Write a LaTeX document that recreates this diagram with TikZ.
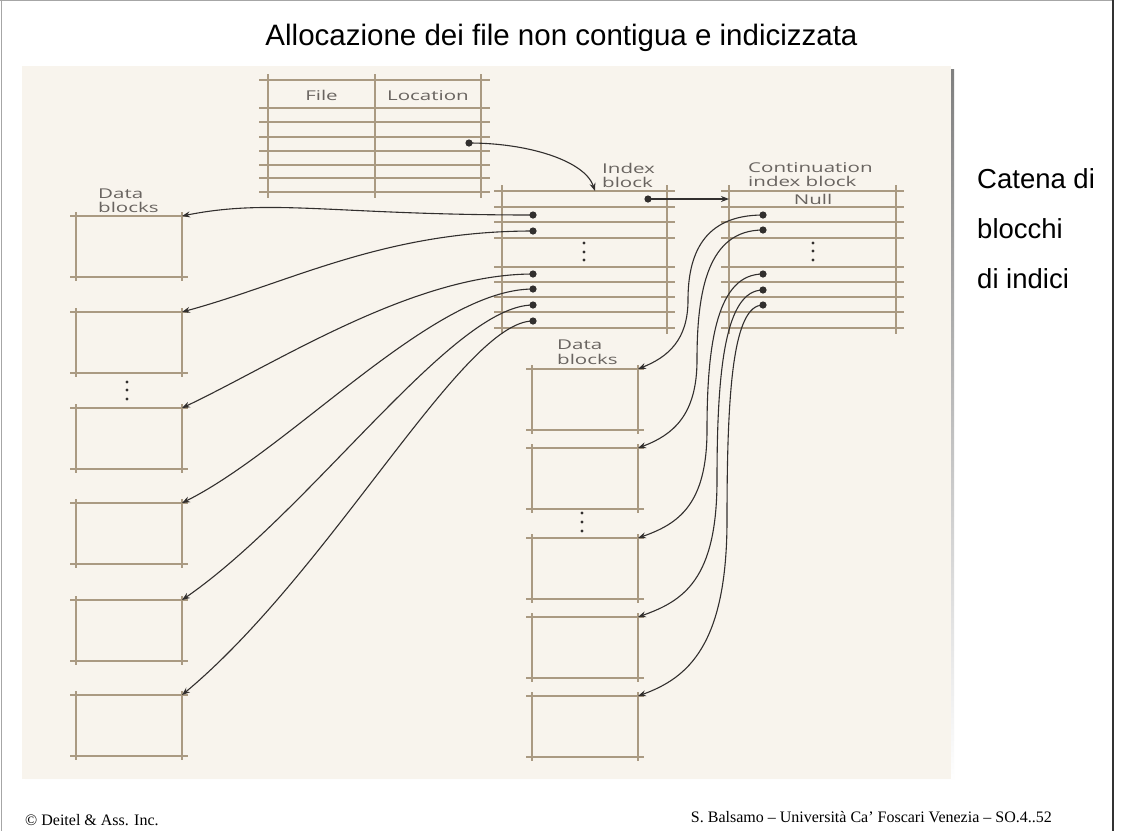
\documentclass[tikz,border=0pt]{standalone}
\usepackage{fontspec}
\setmainfont{Liberation Serif}
\newfontfamily\arialf{Liberation Sans}
\newfontfamily\figf{Open Sans}
\usetikzlibrary{arrows.meta}
\definecolor{panel}{RGB}{248,244,237}
\definecolor{gridc}{RGB}{170,154,130}
\definecolor{wire}{RGB}{50,47,46}
\definecolor{lblc}{RGB}{105,100,96}
\definecolor{shade}{RGB}{203,207,215}
\newcommand{\flab}[1]{\scalebox{1.52}[1]{#1}}
\tikzset{
  gridline/.style={draw=gridc, line width=1.2pt},
  dblk/.style={draw=gridc, line width=1.2pt, minimum width=106pt, minimum height=61pt, inner sep=0pt, outer sep=0pt},
  tblk/.style={inner sep=0pt, outer sep=0pt},
  ptr/.style={draw=wire, line width=1.1pt, -{Stealth[length=8pt,width=6pt]}},
  lblt/.style={text=lblc, font=\figf\fontsize{13.5}{14}\selectfont, inner sep=0pt},
  vdot/.style={fill=wire},
}
\newcommand{\dblock}[3]{%
  \node[dblk, anchor=north west] (#1) at (#2,#3) {};
  \draw[gridline] ({#2-6},#3) -- ({#2+112},#3) ({#2-6},{#3+61}) -- ({#2+112},{#3+61})
    (#2,{#3-4}) -- (#2,{#3+65}) ({#2+106},{#3-4}) -- ({#2+106},{#3+65});
}
\begin{document}
\begin{tikzpicture}[x=1pt,y=-1pt]
\useasboundingbox (0,0) rectangle (1121,831);
\fill[white] (0,0) rectangle (1121,831);
% page borders
\draw[black!35, line width=1pt] (0,0.5) -- (1113,0.5);
\draw[black!35, line width=1.2pt] (1.5,0) -- (1.5,831);
\draw[black!80, line width=1.5pt] (1113,0) -- (1113,831);
% title
\node[anchor=base, inner sep=0pt, font=\arialf\fontsize{29.5}{32}\selectfont] (title) at (561.5,45) {Allocazione dei file non contigua e indicizzata};
% panel
\fill[shade] (25,69) rectangle (954,782);
\fill[panel] (22,66) rectangle (951,779);
% file table
\node[tblk, anchor=north west, minimum width=213pt, minimum height=112pt] (ftab) at (268,80) {};
\foreach \y in {80,108,122,137,151,165,178,192} \draw[gridline] (259,\y) -- (490,\y);
\foreach \x in {268,375,481} \draw[gridline] (\x,74) -- (\x,198);
\node[lblt, anchor=base] (tfile) at (321.5,100) {\flab{File}};
\node[lblt, anchor=base] (tloc) at (428,100) {\flab{Location}};
% index block
\node[tblk, anchor=north west, minimum width=165pt, minimum height=137pt] (ib) at (502,191) {};
\foreach \y in {191,207,222,238,267,282,297,312,328} \draw[gridline] (494,\y) -- (675,\y);
\foreach \x in {502,667} \draw[gridline] (\x,185) -- (\x,334);
\node[lblt, anchor=base west] (tib1) at (602,173) {\flab{Index}};
\node[lblt, anchor=base west] (tib2) at (602,187) {\flab{block}};
% continuation index block
\node[tblk, anchor=north west, minimum width=167pt, minimum height=137pt] (cb) at (729,191) {};
\foreach \y in {191,207,222,238,267,282,297,312,328} \draw[gridline] (721,\y) -- (904,\y);
\foreach \x in {729,896} \draw[gridline] (\x,185) -- (\x,334);
\node[lblt, anchor=base west] (tcb1) at (748,172) {\flab{Continuation}};
\node[lblt, anchor=base west] (tcb2) at (748,186) {\flab{index block}};
\node[lblt, anchor=base] (tnull) at (813,204) {\flab{Null}};
% left data blocks
\node[lblt, anchor=base west] (tdl1) at (98,198) {\flab{Data}};
\node[lblt, anchor=base west] (tdl2) at (98,212) {\flab{blocks}};
\dblock{L1}{76}{216}
\dblock{L2}{76}{312}
\dblock{L3}{76}{408}
\dblock{L4}{76}{503}
\dblock{L5}{76}{600}
\dblock{L6}{76}{695}
% middle data blocks
\node[lblt, anchor=base west] (tdm1) at (557,349) {\flab{Data}};
\node[lblt, anchor=base west] (tdm2) at (557,364) {\flab{blocks}};
\dblock{M1}{532}{369}
\dblock{M2}{532}{448}
\dblock{M3}{532}{538}
\dblock{M4}{532}{617}
\dblock{M5}{532}{696}
% vertical ellipses
\foreach \p in {(127,382),(127,390),(127,399),(582,513),(582,522),(582,531),(584,243),(584,252),(584,260),(813,243),(813,251),(813,260)}
  \fill[vdot] \p circle[radius=1.6pt];
% pointer origins
\coordinate (fp) at (469,143);
\coordinate (ibin) at (595,191);
\coordinate (ic) at (648,199);
\coordinate (i1) at (533,215);
\coordinate (i2) at (533,231);
\coordinate (i3) at (533,274);
\coordinate (i4) at (533,289);
\coordinate (i5) at (533,305);
\coordinate (i6) at (533,321);
\coordinate (c1) at (763,215);
\coordinate (c2) at (763,230);
\coordinate (c3) at (763,274);
\coordinate (c4) at (763,290);
\coordinate (c5) at (763,305);
% connectors
\draw[ptr] (fp) .. controls +(60,0) and +(-10,-30) .. (ibin);
\draw[ptr] (ic) -- (ic -| cb.west);
\draw[ptr] (i1) .. controls +(-200,0) and +(90,-18) .. (L1.north east);
\draw[ptr] (i2) .. controls +(-150,0) and +(110,-30) .. (L2.north east);
\draw[ptr] (i3) .. controls +(-120,0) and +(95,-45) .. (L3.north east);
\draw[ptr] (i4) .. controls +(-100,0) and +(110,-55) .. (L4.north east);
\draw[ptr] (i5) .. controls +(-80,0) and +(130,-90) .. (L5.north east);
\draw[ptr] (i6) .. controls +(-70,0) and +(150,-125) .. (L6.north east);
\draw[ptr] (c1) .. controls +(-60,0) and +(0,-45) .. (688,300) .. controls +(0,40) and +(30,-12) .. (M1.north east);
\draw[ptr] (c2) .. controls +(-55,0) and +(0,-70) .. (697,360) .. controls +(0,55) and +(35,-13) .. (M2.north east);
\draw[ptr] (c3) .. controls +(-45,0) and +(0,-90) .. (707,430) .. controls +(0,75) and +(40,-14) .. (M3.north east);
\draw[ptr] (c4) .. controls +(-38,0) and +(0,-110) .. (717,480) .. controls +(0,100) and +(45,-16) .. (M4.north east);
\draw[ptr] (c5) .. controls +(-30,0) and +(0,-130) .. (727,520) .. controls +(0,125) and +(50,-18) .. (M5.north east);
% dots
\foreach \d in {fp,ic,i1,i2,i3,i4,i5,i6,c1,c2,c3,c4,c5}
  \fill[wire] (\d) circle[radius=3.6pt];
% side text
\node[anchor=base west, inner sep=0pt, font=\arialf\fontsize{27.5}{30}\selectfont] (s1) at (977,188) {Catena di};
\node[anchor=base west, inner sep=0pt, font=\arialf\fontsize{27.5}{30}\selectfont] (s2) at (977,238) {blocchi};
\node[anchor=base west, inner sep=0pt, font=\arialf\fontsize{27.5}{30}\selectfont] (s3) at (977,288) {di indici};
% footer
\node[anchor=base west, inner sep=0pt, font=\fontsize{16}{18}\selectfont] (f1) at (25,825) {© Deitel \& Ass. Inc.};
\node[anchor=base east, inner sep=0pt, font=\fontsize{16}{18}\selectfont] (f2) at (1052,822) {S. Balsamo – Università Ca’ Foscari Venezia – SO.4..52};
\end{tikzpicture}
\end{document}
